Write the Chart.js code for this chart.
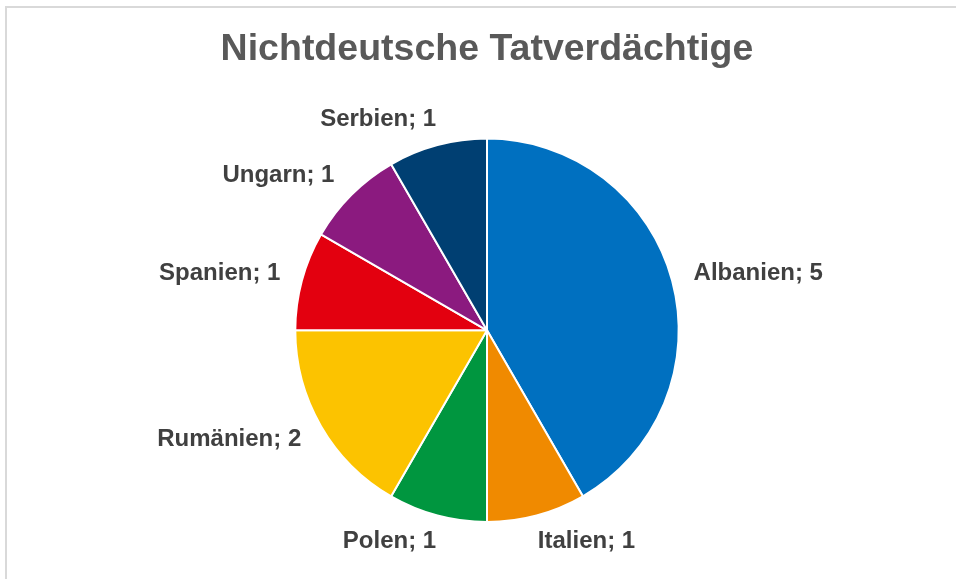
<!DOCTYPE html>
<html>
<head>
<meta charset="utf-8">
<script src="https://cdn.jsdelivr.net/npm/chart.js@4"></script>
<style>
  html, body { margin: 0; padding: 0; background: #fff; }
  #frame {
    position: absolute; left: 5px; top: 6px;
    width: 1000px; height: 620px;
    border-left: 2px solid #d9d9d9; border-top: 2px solid #d9d9d9;
  }
  #wrap { position: absolute; left: 0; top: 0; width: 956px; height: 579px; }
</style>
</head>
<body>
<div id="frame"></div>
<div id="wrap"><canvas id="pieChart" width="956" height="579"></canvas></div>
<script>
// Data
const countries = ['Albanien', 'Italien', 'Polen', 'Rumänien', 'Spanien', 'Ungarn', 'Serbien'];
const suspects = [5, 1, 1, 2, 1, 1, 1];
const sliceColors = ['#0070c0', '#f08a00', '#00963f', '#fcc300', '#e3000f', '#8b1a7f', '#003f72'];

// Draw "Name; value" labels just outside each slice
const outsideLabels = {
  id: 'outsideLabels',
  afterDatasetsDraw(chart) {
    const ctx = chart.ctx;
    const meta = chart.getDatasetMeta(0);
    ctx.save();
    ctx.font = 'bold 24px "Liberation Sans", Arial, sans-serif';
    ctx.fillStyle = '#404040';
    ctx.textBaseline = 'middle';
    meta.data.forEach((arc, i) => {
      const mid = (arc.startAngle + arc.endAngle) / 2;
      const cos = Math.cos(mid), sin = Math.sin(mid);
      const r = arc.outerRadius + 17;
      // side labels sit a bit further out, top/bottom ones a bit closer
      const extra = 13 * Math.min(1, Math.abs(cos) / 0.7) - 8;
      const x = arc.x + cos * r + Math.sign(cos) * extra;
      const y = arc.y + sin * r;
      const text = countries[i] + '; ' + suspects[i];
      const h = 20;
      ctx.textAlign = cos >= 0 ? 'left' : 'right';
      ctx.fillText(text, x, y + sin * h / 2);
    });
    ctx.restore();
  }
};

new Chart(document.getElementById('pieChart'), {
  type: 'pie',
  data: {
    labels: countries,
    datasets: [{
      data: suspects,
      backgroundColor: sliceColors,
      borderColor: '#ffffff',
      borderWidth: 2
    }]
  },
  options: {
    responsive: false,
    animation: false,
    layout: { padding: { left: 18, right: 0, top: 0, bottom: 56 } },
    plugins: {
      legend: { display: false },
      tooltip: { enabled: false },
      title: {
        display: true,
        text: 'Nichtdeutsche Tatverdächtige',
        color: '#595959',
        font: { family: '"Liberation Sans", Arial, sans-serif', size: 37.5, weight: 'bold', lineHeight: 1.2 },
        padding: { top: 27, bottom: 65.6 }
      }
    }
  },
  plugins: [outsideLabels]
});
</script>
</body>
</html>
